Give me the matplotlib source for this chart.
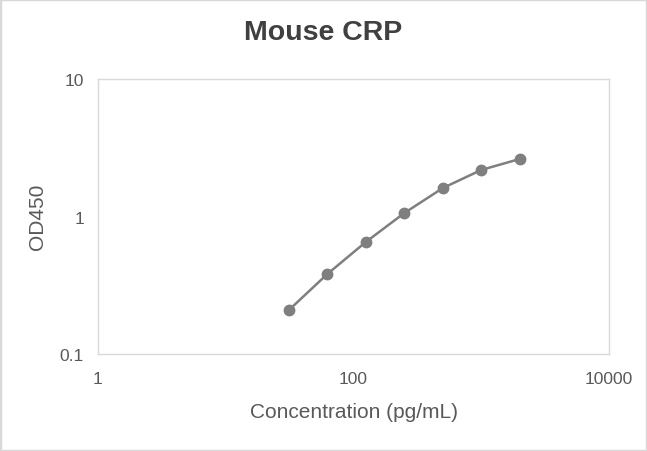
import matplotlib
matplotlib.use("Agg")
import matplotlib.pyplot as plt
from matplotlib.patches import Rectangle

plt.rcParams["font.family"] = ["Liberation Sans", "DejaVu Sans"]

# standard curve
conc = [31.25, 62.5, 125, 250, 500, 1000, 2000]
od450 = [0.209, 0.382, 0.653, 1.06, 1.61, 2.18, 2.62]
x_ticks = [1, 100, 10000]
x_labels = ["1", "100", "10000"]
y_ticks = [0.1, 1, 10]
y_labels = ["0.1", "1", "10"]

W, H = 647, 452
fig = plt.figure(figsize=(W / 100, H / 100), dpi=100)
fig.patches.append(Rectangle((0, 0), 1, 1, transform=fig.transFigure,
                             fill=False, ec="#d9d9d9", lw=2.5))
ax = fig.add_axes([98 / W, 1 - 355 / H, 511 / W, 275 / H])

ax.plot(conc, od450, color="#7f7f7f", lw=1.8, marker="o", ms=7.5,
        mfc="#7f7f7f", mec="#7f7f7f", zorder=3)
ax.set_xscale("log")
ax.set_yscale("log")
ax.set_xlim(1, 10000)
ax.set_ylim(0.1, 10)
ax.set_xticks(x_ticks, x_labels)
ax.set_yticks(y_ticks, y_labels)
ax.minorticks_off()
ax.tick_params(length=0, labelsize=12.5, colors="#595959")
ax.tick_params(axis="x", pad=12)
ax.tick_params(axis="y", pad=10)
for s in ax.spines.values():
    s.set_color("#d9d9d9")
    s.set_linewidth(1)

fig.text(353.5 / W, 1 - 413 / H, "Concentration (pg/mL)", ha="center", va="center",
         fontsize=15, color="#595959")
fig.text(37 / W, 1 - 217 / H, "OD450", ha="center", va="center", rotation=90,
         fontsize=15, color="#595959")
fig.text(0.5, 1 - 33 / H, "Mouse CRP", ha="center", va="center",
         fontsize=20.5, fontweight="bold", color="#404040")

fig.savefig("out.png", dpi=100)
